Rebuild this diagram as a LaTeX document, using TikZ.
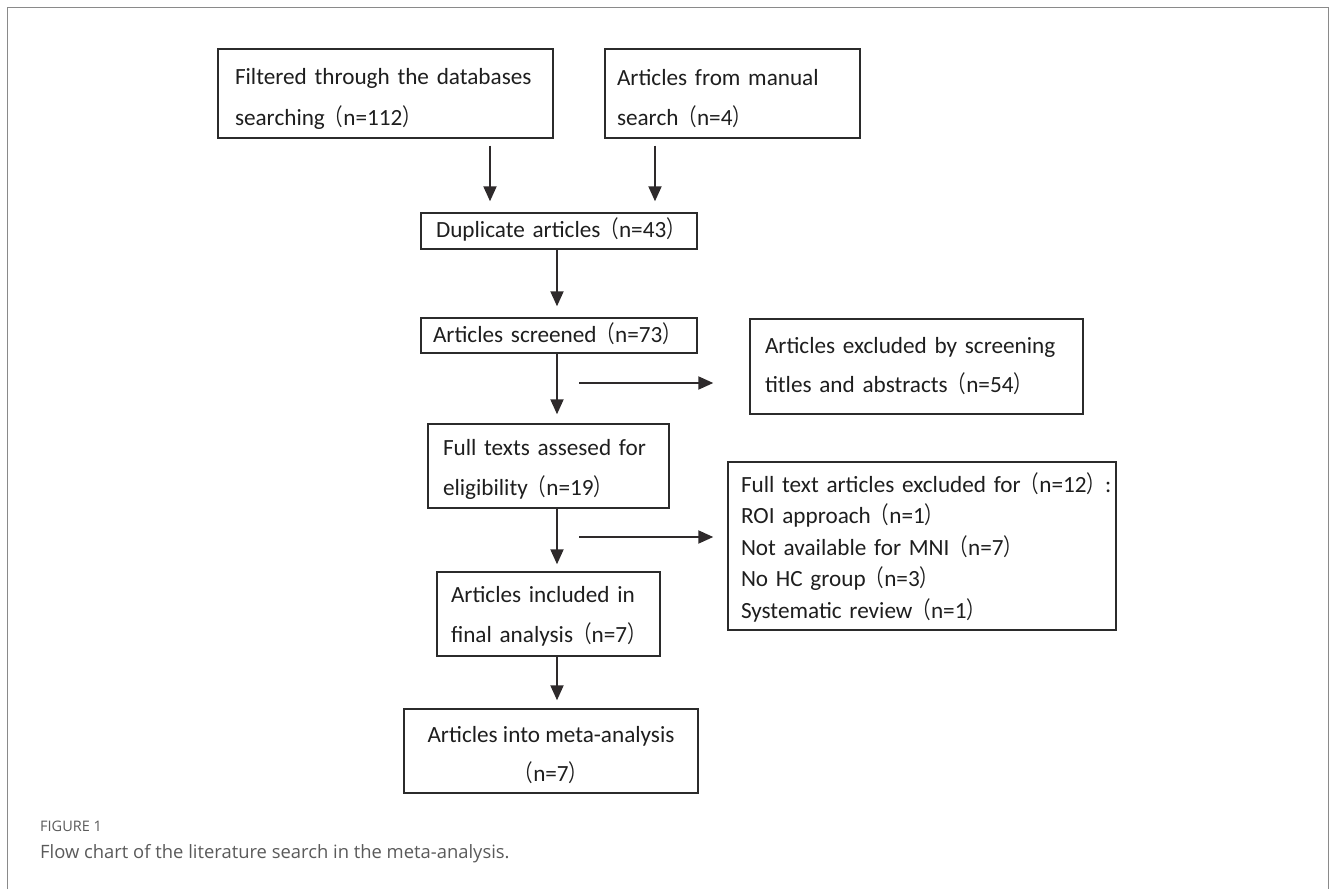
\documentclass[tikz,border=0pt]{standalone}
\usepackage{fontspec}
\setmainfont{Carlito}
\newfontfamily\cjkfont[FakeStretch=0.8]{Noto Sans CJK SC}
\newfontfamily\capfont{Open Sans}
\usetikzlibrary{arrows.meta}
\newcommand\lpar{{\cjkfont （}}
\newcommand\rpar{{\cjkfont ）}}
\newcommand\tstr[1]{\rule{0pt}{#1pt}}
\newcommand\bstr[1]{\rule[-#1pt]{0pt}{#1pt}}
\definecolor{framec}{HTML}{8A8A8A}
\definecolor{boxc}{HTML}{2B2B2B}
\definecolor{arrc}{HTML}{2E2A2B}
\definecolor{txtc}{HTML}{1E1E1E}
\definecolor{capc}{HTML}{5A5A5A}
\tikzset{
  fbox/.style={draw=boxc, line width=1.4pt, inner sep=0pt, text=txtc,
    font=\fontsize{23.2pt}{40pt}\selectfont},
  lbox/.style={fbox, align=left},
  arr/.style={draw=arrc, line width=2pt, -{Triangle[length=15pt,width=13pt]}},
}
\begin{document}
\begin{tikzpicture}[x=1pt,y=-1pt]
\useasboundingbox (0,0) rectangle (1330,889);
\draw[framec, line width=1.6pt] (7.5,889) -- (7.5,7.5) -- (1328.5,7.5) -- (1328.5,889);

\node[lbox, minimum width=335pt, minimum height=89pt, text width=301pt,
  font=\fontsize{23.2pt}{41pt}\selectfont] (a) at (385.5,93.5)
  {\tstr{28}\mbox{Filtered through the databases}\\\mbox{searching\lpar n=112\rpar}\bstr{6}};
\node[lbox, minimum width=255pt, minimum height=89pt, text width=231pt] (b) at (732.5,93.5)
  {\tstr{29}\mbox{Articles from manual}\\\mbox{search\lpar n=4\rpar}\bstr{6}};
\node[lbox, minimum width=276pt, minimum height=36pt, text width=246pt] (c) at (559,231)
  {\tstr{22}\mbox{Duplicate articles\lpar n=43\rpar}\bstr{10}};
\node[lbox, minimum width=276pt, minimum height=35pt, text width=252pt] (d) at (559,335.5)
  {\tstr{22}\mbox{Articles screened\lpar n=73\rpar}\bstr{9}};
\node[lbox, minimum width=333pt, minimum height=95pt, text width=303pt,
  font=\fontsize{23.2pt}{39pt}\selectfont] (f) at (916.5,366.5)
  {\tstr{20}\mbox{Articles excluded by screening}\\\mbox{titles and abstracts\lpar n=54\rpar}\bstr{8}};
\node[lbox, minimum width=241pt, minimum height=84pt, text width=211pt] (e) at (548.5,466)
  {\tstr{24}\mbox{Full texts assesed for}\\\mbox{eligibility\lpar n=19\rpar}\bstr{6}};
\node[lbox, minimum width=388pt, minimum height=168pt, text width=362pt,
  font=\fontsize{23.2pt}{31.5pt}\selectfont] (h) at (922,546)
  {\tstr{24}\mbox{Full text articles excluded for\lpar n=12\rpar:}\\
   \mbox{ROI approach\lpar n=1\rpar}\\
   \mbox{Not available for MNI\lpar n=7\rpar}\\
   \mbox{No HC group\lpar n=3\rpar}\\
   \mbox{Systematic review\lpar n=1\rpar}\bstr{6}};
\node[lbox, minimum width=223pt, minimum height=84pt, text width=195pt] (g) at (548.5,614)
  {\tstr{23}\mbox{Articles included in}\\\mbox{final analysis\lpar n=7\rpar}\bstr{6}};
\node[fbox, align=center, minimum width=294pt, minimum height=84pt,
  font=\fontsize{23.2pt}{39pt}\selectfont] (i) at (551,751)
  {\tstr{27}Articles into meta-analysis\\\lpar n=7\rpar\bstr{6}};

\coordinate (xa) at (490,0);
\coordinate (xb) at (655,0);
\coordinate (xt) at (557,0);
\coordinate (j1) at (557,383);
\coordinate (j2) at (557,537);

\draw[arr] ([yshift=-7pt]a.south -| xa) -- ([yshift=11pt]c.north -| xa);
\draw[arr] ([yshift=-7pt]b.south -| xb) -- ([yshift=11pt]c.north -| xb);
\draw[arr] (c.south -| xt) -- ([yshift=11pt]d.north -| xt);
\draw[arr] (d.south -| xt) -- ([yshift=9pt]e.north -| xt);
\draw[arr] (e.south -| xt) -- ([yshift=7pt]g.north -| xt);
\draw[arr] (g.south -| xt) -- ([yshift=8pt]i.north -| xt);
\draw[arr] ([xshift=22pt]j1) -- ([xshift=-36pt]f.west |- j1);
\draw[arr] ([xshift=22pt]j2) -- ([xshift=-14pt]h.west |- j2);

\node[anchor=base west, inner sep=0pt, text=capc, font=\capfont\fontsize{14.5pt}{16pt}\selectfont] (cap1) at (40,831) {FIGURE 1};
\node[anchor=base west, inner sep=0pt, text=capc, font=\capfont\fontsize{18.4pt}{20pt}\selectfont] (cap2) at (40,858) {Flow chart of the literature search in the meta-analysis.};
\end{tikzpicture}
\end{document}
